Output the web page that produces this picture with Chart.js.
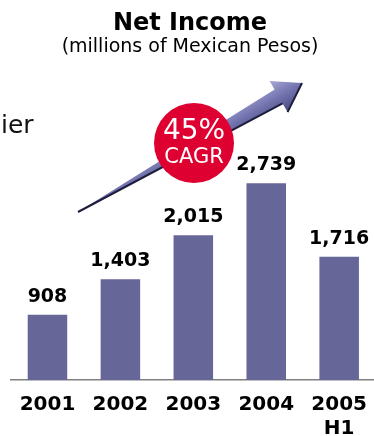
<!DOCTYPE html>
<html>
<head>
<meta charset="utf-8">
<script src="https://cdn.jsdelivr.net/npm/chart.js@4.4.0/dist/chart.umd.min.js"></script>
<style>
  html, body { margin: 0; padding: 0; background: #fff; overflow: hidden; }
  canvas { display: block; }
</style>
</head>
<body>
<canvas id="myChart" width="380" height="436"></canvas>
<script>
'use strict';
// net income per year, millions of pesos
let years = [['2001'], ['2002'], ['2003'], ['2004'], ['2005', 'H1']];
let netIncome = [908, 1403, 2015, 2739, 1716];
let growthText = ['45%', 'CAGR'];

let barColor = '#666699';
let font = 'DejaVu Sans, Verdana, sans-serif';

function fmt(n) {
  return n.toLocaleString('en-US');
}

// value above every bar
let valueLabels = {
  id: 'valueLabels',
  afterDatasetsDraw(chart) {
    let ctx = chart.ctx;
    let meta = chart.getDatasetMeta(0);
    ctx.save();
    ctx.font = 'bold 19px ' + font;
    ctx.fillStyle = '#000';
    ctx.textAlign = 'center';
    ctx.textBaseline = 'middle';
    meta.data.forEach(function (bar, i) {
      ctx.fillText(fmt(netIncome[i]), bar.x, bar.y - 18);
    });
    ctx.restore();
  }
};

// growth arrow, red badge and the cut-off slide text on the left
let decor = {
  id: 'decor',
  afterDraw(chart) {
    let ctx = chart.ctx;
    ctx.save();

    ctx.font = '25px ' + font;
    ctx.fillStyle = '#111';
    ctx.textBaseline = 'alphabetic';
    ctx.fillText('ier', 1, 133);

    // arrow
    let x0 = 78, y0 = 212, x1 = 302, y1 = 83;
    let len = Math.hypot(x1 - x0, y1 - y0);
    ctx.translate(x0, y0);
    ctx.rotate(Math.atan2(y1 - y0, x1 - x0));
    let headU = len - 27;
    let g = ctx.createLinearGradient(0, -18, 0, 18);
    g.addColorStop(0, '#a8a8d6');
    g.addColorStop(0.5, '#7474b0');
    g.addColorStop(1, '#4a4a80');
    ctx.beginPath();
    ctx.moveTo(0, 0);
    ctx.lineTo(headU, -8);
    ctx.lineTo(headU, -18);
    ctx.lineTo(len, 0);
    ctx.lineTo(headU, 18);
    ctx.lineTo(headU, 8);
    ctx.closePath();
    ctx.fillStyle = g;
    ctx.fill();
    // dark lower edge
    ctx.beginPath();
    ctx.moveTo(0, 0);
    ctx.lineTo(headU, 8);
    ctx.moveTo(headU, 18);
    ctx.lineTo(len, 0);
    ctx.strokeStyle = '#1e1e3c';
    ctx.lineWidth = 2;
    ctx.stroke();
    ctx.setTransform(1, 0, 0, 1, 0, 0);

    // badge
    ctx.beginPath();
    ctx.arc(194, 143, 40, 0, Math.PI * 2);
    ctx.fillStyle = '#de0030';
    ctx.fill();
    ctx.fillStyle = '#fff';
    ctx.textAlign = 'center';
    ctx.textBaseline = 'middle';
    ctx.font = '28px ' + font;
    ctx.fillText(growthText[0], 194, 132);
    ctx.font = '21px ' + font;
    ctx.fillText(growthText[1], 194, 158);
    ctx.restore();
  }
};

let ctx = document.getElementById('myChart').getContext('2d');
let myChart = new Chart(ctx, {
  type: 'bar',
  data: {
    labels: years,
    datasets: [{
      data: netIncome,
      backgroundColor: barColor,
      borderWidth: 0,
      barPercentage: 0.542,
      categoryPercentage: 1
    }]
  },
  options: {
    responsive: false,
    animation: false,
    devicePixelRatio: 1,
    layout: { padding: 0 },
    plugins: {
      legend: { display: false },
      tooltip: { enabled: false },
      title: {
        display: true,
        text: 'Net Income',
        color: '#000',
        font: { family: font, size: 24, weight: 'bold', lineHeight: 1.1 },
        padding: { top: 11, bottom: 0 }
      },
      subtitle: {
        display: true,
        text: '(millions of Mexican Pesos)',
        color: '#000',
        font: { family: font, size: 19, weight: 'normal', lineHeight: 1 },
        padding: { top: 0, bottom: 108 }
      }
    },
    scales: {
      x: {
        grid: { display: false, drawTicks: false },
        border: { display: true, color: '#808080', width: 1.5 },
        ticks: {
          color: '#000',
          padding: 13,
          maxRotation: 0,
          font: { family: font, size: 20, weight: 'bold', lineHeight: 1.2 }
        },
        afterFit(axis) { axis.height = 56; }
      },
      y: {
        min: 0,
        max: 3000,
        ticks: { display: false },
        grid: { display: false },
        border: { display: false },
        afterFit(axis) { axis.width = 11; }
      }
    }
  },
  plugins: [valueLabels, decor]
});
</script>
</body>
</html>
